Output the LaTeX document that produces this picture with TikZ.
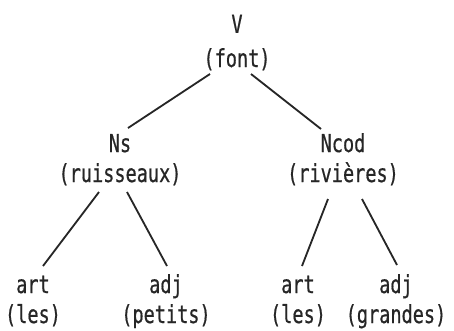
\documentclass[tikz,border=0pt]{standalone}
\usepackage{fontspec}
\setmainfont{DejaVu Sans Mono}[FakeStretch=0.75, FakeBold=0.6]
\usetikzlibrary{calc}

\begin{document}
\begin{tikzpicture}[x=0.025cm, y=-0.025cm,
    word/.style={anchor=base, align=center, inner sep=0pt,
      font=\fontsize{17.6pt}{21.3pt}\selectfont, text=black!85},
    branch/.style={line width=1.3pt, black!85}]
  \useasboundingbox (0,0) rectangle (454,330);

  % verb at the root
  \node[word] (v) at (237,67) {V\\[3pt](font)};

  % the two noun phrases
  \node[word] (ns) at (120,182) {Ns\\(ruisseaux)};
  \node[word] (ncod) at (343,182) {Ncod\\(rivières)};

  % leaves
  \node[word] (art1) at (33,323) {art\\(les)};
  \node[word] (adj1) at (166,323) {adj\\(petits)};
  \node[word] (art2) at (298,323) {art\\(les)};
  \node[word] (adj2) at (396,323) {adj\\(grandes)};

  % branches
  \draw[branch] ($(v.base)+(-27,7)$) -- ($(ns.base)+(8,-54)$);
  \draw[branch] ($(v.base)+(14,7)$) -- ($(ncod.base)+(-22,-53)$);
  \draw[branch] ($(ns.base)+(-21,10)$) -- ($(art1.base)+(10,-57)$);
  \draw[branch] ($(ns.base)+(7,10)$) -- ($(adj1.base)+(1,-57)$);
  \draw[branch] ($(ncod.base)+(-15,17)$) -- ($(art2.base)+(4,-57)$);
  \draw[branch] ($(ncod.base)+(19,17)$) -- ($(adj2.base)+(1,-58)$);
\end{tikzpicture}
\end{document}
